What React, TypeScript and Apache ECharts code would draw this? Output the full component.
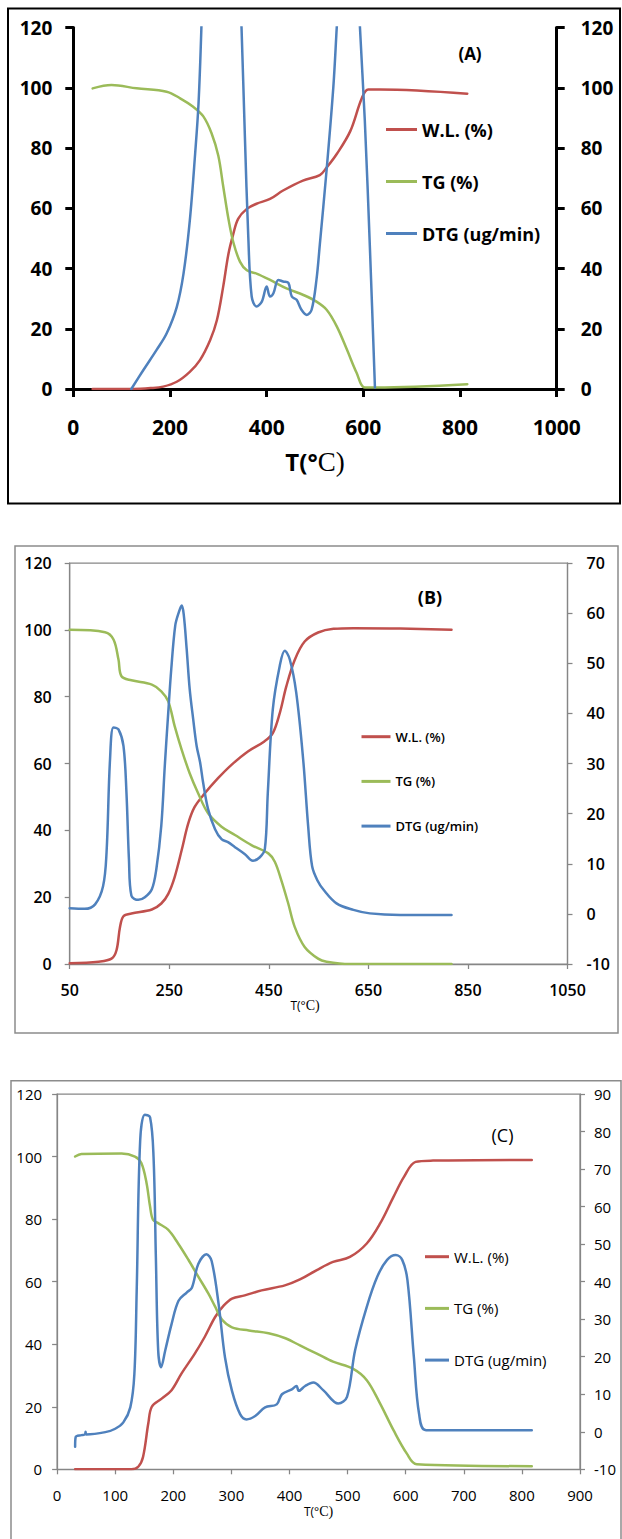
import React, { useEffect, useRef } from "react";
import * as echarts from "echarts";

type Pt = [number, number];

// ---------- Panel (A) ----------
const A_WL: Pt[] = [[40,0],[80,0],[124,0],[160,0.3],[186,0.8],[214,2.4],[241,5.7],[262,9.6],[283,16.2],[297,22.8],[310,33.9],[321,44.9],[331,51.5],[341,56.5],[359,59.8],[379,61.5],[407,63.1],[434,65.9],[475,69.2],[510,71],[524,73.5],[545,78],[573,85.6],[597,96.6],[610,99.4],[634,99.4],[815,98]];
const A_TG: Pt[] = [[40,99.8],[79,100.9],[131,99.8],[193,98.7],[221,96.5],[248,93.7],[269,90.5],[286,84.9],[300,77.4],[310,67.4],[321,56.4],[331,48.7],[345,42.2],[359,39.4],[379,38.3],[407,36.2],[441,33.4],[476,31.2],[503,29],[524,26.3],[545,20.8],[566,13.1],[586,5.4],[603,0.5],[627,0.5],[815,1.6]];
const A_DTG: Pt[] = [[120,0],[145,6.3],[172,12.9],[193,18.4],[214,27.2],[228,38.3],[241,55.9],[252,78],[259,94.6],[265,120],[272,160],[300,230],[330,200],[348,120],[355,83.6],[362,50.5],[369,30.7],[379,27.4],[390,29],[400,34],[407,30.7],[414,31.8],[424,36.2],[434,35.7],[445,35.2],[452,30.7],[462,29.6],[472,26.3],[483,24.6],[493,26.3],[503,36.2],[510,48],[524,72.7],[538,100.4],[545,120],[556,150],[570,175],[585,150],[593,120],[603,89.3],[614,45.1],[624,0.5]];

// ---------- Panel (B) ----------
const B_WL: Pt[] = [[50,0.2],[108,0.7],[134,1.6],[144,4.1],[151,11],[158,14.3],[174,15.1],[215,16.3],[234,18.1],[248,21],[261,26.1],[275,34.1],[288,42],[301,47],[321,51],[348,55.6],[375,59.6],[408,63.6],[441,66.6],[458,69.1],[472,75.1],[485,83],[502,91],[522,96.5],[549,99.2],[580,100.3],[620,100.5],[714,100.4],[817,100]];
const B_TG: Pt[] = [[50,100],[121,99.3],[138,97.1],[148,91.1],[154,86.1],[174,84.9],[215,83.6],[234,81.6],[248,78.6],[261,71.1],[275,64.1],[291,57.1],[308,51.1],[328,45.1],[355,41.1],[382,38.6],[415,35.6],[449,33.1],[462,30.6],[475,25.1],[489,18.1],[502,11.1],[522,5.1],[549,1.6],[566,0.7],[613,0],[817,0]];
const B_DTG: Pt[] = [[50,1.1],[80,1.0],[101,1.9],[117,5.5],[124,12.2],[131,30.8],[138,37.2],[148,36.8],[158,33.5],[164,24.2],[169,10.9],[174,3.6],[188,2.8],[201,3.3],[215,4.9],[224,8.9],[234,17.6],[241,29.5],[248,40.2],[254,48.8],[262,57.5],[269,60.1],[275,61.5],[279,59.8],[285,52.8],[291,44.9],[298,38.9],[305,33.5],[312,30.2],[318,26.2],[328,20.9],[342,16.9],[355,14.9],[368,14.3],[382,13.3],[402,11.9],[418,10.6],[432,11.3],[442,12.9],[448,24.2],[458,40.8],[472,49.5],[482,52.5],[492,50.8],[505,44.2],[519,30.8],[529,17.5],[537,9.5],[548,6.6],[560,4.8],[586,2.1],[620,0.8],[653,0.1],[714,-0.2],[817,-0.2]];

// ---------- Panel (C) ----------
const C_WL: Pt[] = [[31,0],[128,0],[140,0.9],[148,4],[157,14.7],[163,20],[180,22.6],[197,25.3],[214,30.6],[237,37],[254,42.3],[272,48.7],[287,52.4],[301,54.6],[323,55.6],[352,57.2],[392,58.8],[418,60.7],[447,63.7],[475,66.3],[504,67.9],[533,72.2],[556,78.6],[579,87.1],[597,93.5],[617,98.3],[647,98.7],[817,98.9]];
const C_TG: Pt[] = [[31,100],[42,100.8],[111,101],[134,100],[145,97.9],[154,91.5],[160,84],[165,79.8],[174,78.7],[191,76.6],[208,72.3],[226,67],[243,61.6],[260,56.3],[272,52],[284,47.8],[301,45.4],[330,44.4],[364,43.5],[393,41.9],[418,39.6],[447,37],[475,34.4],[509,32.2],[533,28.5],[556,21],[579,12.5],[602,5],[619,1.6],[817,1]];
const C_DTG: Pt[] = [[31,-4],[32,-1.4],[42,-0.9],[48,-0.7],[49,0],[50,-0.7],[83,-0.1],[100,0.8],[114,2.5],[126,6.5],[133,15.4],[137,37.6],[143,77.6],[151,84.5],[160,83.8],[166,73.2],[170,46.5],[174,21.6],[179,17.2],[186,21.6],[197,28.7],[209,34.9],[223,37.1],[232,38.4],[243,44.7],[257,47.3],[266,45.5],[278,34],[289,19.8],[301,10.9],[315,4.7],[326,3.3],[341,4.2],[358,6.5],[378,7.3],[387,10],[404,11.3],[412,12.2],[416,10.9],[427,12.2],[441,13.1],[458,11.1],[484,7.5],[499,9.3],[513,21.8],[533,33.3],[551,41.3],[568,45.8],[583,47.1],[594,45.8],[603,40.4],[614,20],[623,4.8],[635,0.4],[817,0.4]];

const NAMES = ["W.L. (%)", "TG (%)", "DTG (ug/min)"];
const COLORS = ["#C0504D", "#9BBB59", "#4F81BD"];
const X_TITLE = "{a|T(°}{b|C)}";

const FONT = "'Open Sans', 'Noto Sans', sans-serif";
const plain = (v: number) => String(v);

function line(name: string, color: string, data: Pt[], xi: number, yi: number) {
  return {
    type: "line",
    name,
    data,
    xAxisIndex: xi,
    yAxisIndex: yi,
    showSymbol: false,
    symbol: "none",
    smooth: 0.35,
    clip: true,
    color,
    itemStyle: { color },
    lineStyle: { color, width: 2.5, join: "round", cap: "round" },
  };
}

function yAx(grid: number, pos: string, min: number, max: number, interval: number, color: string, width: number, tick: number, label: any) {
  return {
    gridIndex: grid,
    type: "value",
    position: pos,
    min,
    max,
    interval,
    axisLine: { show: true, onZero: false, lineStyle: { color, width } },
    axisTick: { show: true, length: tick, lineStyle: { color, width } },
    axisLabel: { show: true, color: "#000", fontFamily: FONT, formatter: plain, ...label },
    splitLine: { show: false },
  };
}

export default function App() {
  const ref = useRef<HTMLDivElement>(null);
  useEffect(() => {
    document.body.style.margin = "0";
    document.body.style.overflow = "hidden";
    if (!ref.current) return;
    const chart = echarts.init(ref.current, null, { renderer: "svg" });
    const legendBase = {
      orient: "vertical",
      icon: "rect",
      itemHeight: 3,
      padding: 0,
      selectedMode: false,
      data: NAMES,
    };
    const option: any = {
      animation: false,
      backgroundColor: "#fff",
      grid: [
        { left: 73.3, top: 27.5, width: 483.4, height: 361.5, outerBoundsMode: "none", containLabel: false },
        { left: 69.7, top: 563, width: 497.8, height: 401, show: true, borderColor: "#868686", borderWidth: 1.25, outerBoundsMode: "none", containLabel: false },
        { left: 57.1, top: 1094, width: 522.9, height: 375.3, show: true, borderColor: "#868686", borderWidth: 1.25, outerBoundsMode: "none", containLabel: false },
      ],
      xAxis: [
        {
          gridIndex: 0, type: "value", min: 0, max: 1000, interval: 200,
          axisLine: { onZero: false, lineStyle: { color: "#000", width: 3 } },
          axisTick: { show: true, length: 8, lineStyle: { color: "#000", width: 3 } },
          axisLabel: { margin: 27, color: "#000", fontSize: 21, fontWeight: "bold", fontFamily: FONT, formatter: plain },
          splitLine: { show: false },
          name: X_TITLE, nameLocation: "middle", nameGap: 59,
          nameTextStyle: {
            rich: {
              a: { fontFamily: FONT, fontWeight: "bold", fontSize: 24, color: "#000" },
              b: { fontFamily: "'Liberation Serif', serif", fontSize: 27, color: "#000" },
            },
          },
        },
        {
          gridIndex: 1, type: "value", min: 50, max: 1050, interval: 200,
          axisLine: { onZero: false, lineStyle: { color: "#868686", width: 1.25 } },
          axisTick: { show: true, length: 5, lineStyle: { color: "#868686", width: 1.25 } },
          axisLabel: { margin: 18, color: "#000", fontSize: 16, fontWeight: 600, fontFamily: FONT, formatter: plain },
          splitLine: { show: false },
          name: X_TITLE, nameLocation: "middle", nameGap: 32,
          nameTextStyle: {
            padding: [0, 27, 0, 0],
            rich: {
              a: { fontFamily: FONT, fontSize: 12, color: "#000" },
              b: { fontFamily: "'Liberation Serif', serif", fontSize: 14, color: "#000" },
            },
          },
        },
        {
          gridIndex: 2, type: "value", min: 0, max: 900, interval: 100,
          axisLine: { onZero: false, lineStyle: { color: "#868686", width: 1.25 } },
          axisTick: { show: true, length: 5, lineStyle: { color: "#868686", width: 1.25 } },
          axisLabel: { margin: 18, color: "#000", fontSize: 15, fontFamily: FONT, formatter: plain },
          splitLine: { show: false },
          name: X_TITLE, nameLocation: "middle", nameGap: 35,
          nameTextStyle: {
            rich: {
              a: { fontFamily: FONT, fontSize: 12, color: "#000" },
              b: { fontFamily: "'Liberation Serif', serif", fontSize: 14, color: "#000" },
            },
          },
        },
      ],
      yAxis: [
        yAx(0, "left", 0, 120, 20, "#000", 3, 8, { margin: 21, fontSize: 19, fontWeight: "bold" }),
        yAx(0, "right", 0, 120, 20, "#000", 3, 8, { margin: 24, fontSize: 19, fontWeight: "bold" }),
        yAx(1, "left", 0, 120, 20, "#868686", 1.25, 5, { margin: 18, fontSize: 16, fontWeight: 600 }),
        yAx(1, "right", -10, 70, 10, "#868686", 1.25, 5, { margin: 19, fontSize: 16, fontWeight: 600 }),
        yAx(2, "left", 0, 120, 20, "#868686", 1.25, 5, { margin: 15, fontSize: 15 }),
        yAx(2, "right", -10, 90, 10, "#868686", 1.25, 5, { margin: 14, fontSize: 15 }),
      ],
      legend: [
        {
          ...legendBase, left: 386, top: 119.5, itemWidth: 31, itemGap: 32,
          textStyle: { fontFamily: FONT, fontSize: 18, fontWeight: "bold", color: "#000", lineHeight: 20 },
        },
        {
          ...legendBase, left: 361.5, top: 728.7, itemWidth: 29, itemGap: 28.7,
          textStyle: { fontFamily: FONT, fontSize: 13, fontWeight: 600, color: "#000", lineHeight: 16 },
        },
        {
          ...legendBase, left: 425, top: 1246.7, itemWidth: 24, itemGap: 31.7,
          textStyle: { fontFamily: FONT, fontSize: 15, color: "#000", lineHeight: 20 },
        },
      ],
      graphic: [
        { type: "rect", silent: true, z: -10, shape: { x: 8, y: 8.5, width: 612, height: 495 }, style: { fill: "none", stroke: "#000", lineWidth: 2 } },
        { type: "rect", silent: true, z: -10, shape: { x: 15, y: 546, width: 603, height: 487 }, style: { fill: "none", stroke: "#8c8c8c", lineWidth: 1.5 } },
        { type: "rect", silent: true, z: -10, shape: { x: 11, y: 1080.7, width: 610, height: 480 }, style: { fill: "none", stroke: "#8c8c8c", lineWidth: 1.5 } },
        { type: "text", x: 470, y: 53.3, style: { text: "(A)", fontFamily: FONT, fontSize: 17, fontWeight: "bold", fill: "#000", align: "center", verticalAlign: "middle", textAlign: "center", textVerticalAlign: "middle" } },
        { type: "text", x: 430, y: 597, style: { text: "(B)", fontFamily: FONT, fontSize: 18, fontWeight: "bold", fill: "#000", align: "center", verticalAlign: "middle", textAlign: "center", textVerticalAlign: "middle" } },
        { type: "text", x: 502.5, y: 1135, style: { text: "(C)", fontFamily: FONT, fontSize: 18, fill: "#000", align: "center", verticalAlign: "middle", textAlign: "center", textVerticalAlign: "middle" } },
      ],
      series: [
        line(NAMES[0], COLORS[0], A_WL, 0, 0),
        line(NAMES[1], COLORS[1], A_TG, 0, 0),
        line(NAMES[2], COLORS[2], A_DTG, 0, 1),
        line(NAMES[0], COLORS[0], B_WL, 1, 2),
        line(NAMES[1], COLORS[1], B_TG, 1, 2),
        line(NAMES[2], COLORS[2], B_DTG, 1, 3),
        line(NAMES[0], COLORS[0], C_WL, 2, 4),
        line(NAMES[1], COLORS[1], C_TG, 2, 4),
        line(NAMES[2], COLORS[2], C_DTG, 2, 5),
      ],
    };
    chart.setOption(option);
    return () => chart.dispose();
  }, []);
  return <div ref={ref} style={{ width: 622, height: 1539 }} />;
}
